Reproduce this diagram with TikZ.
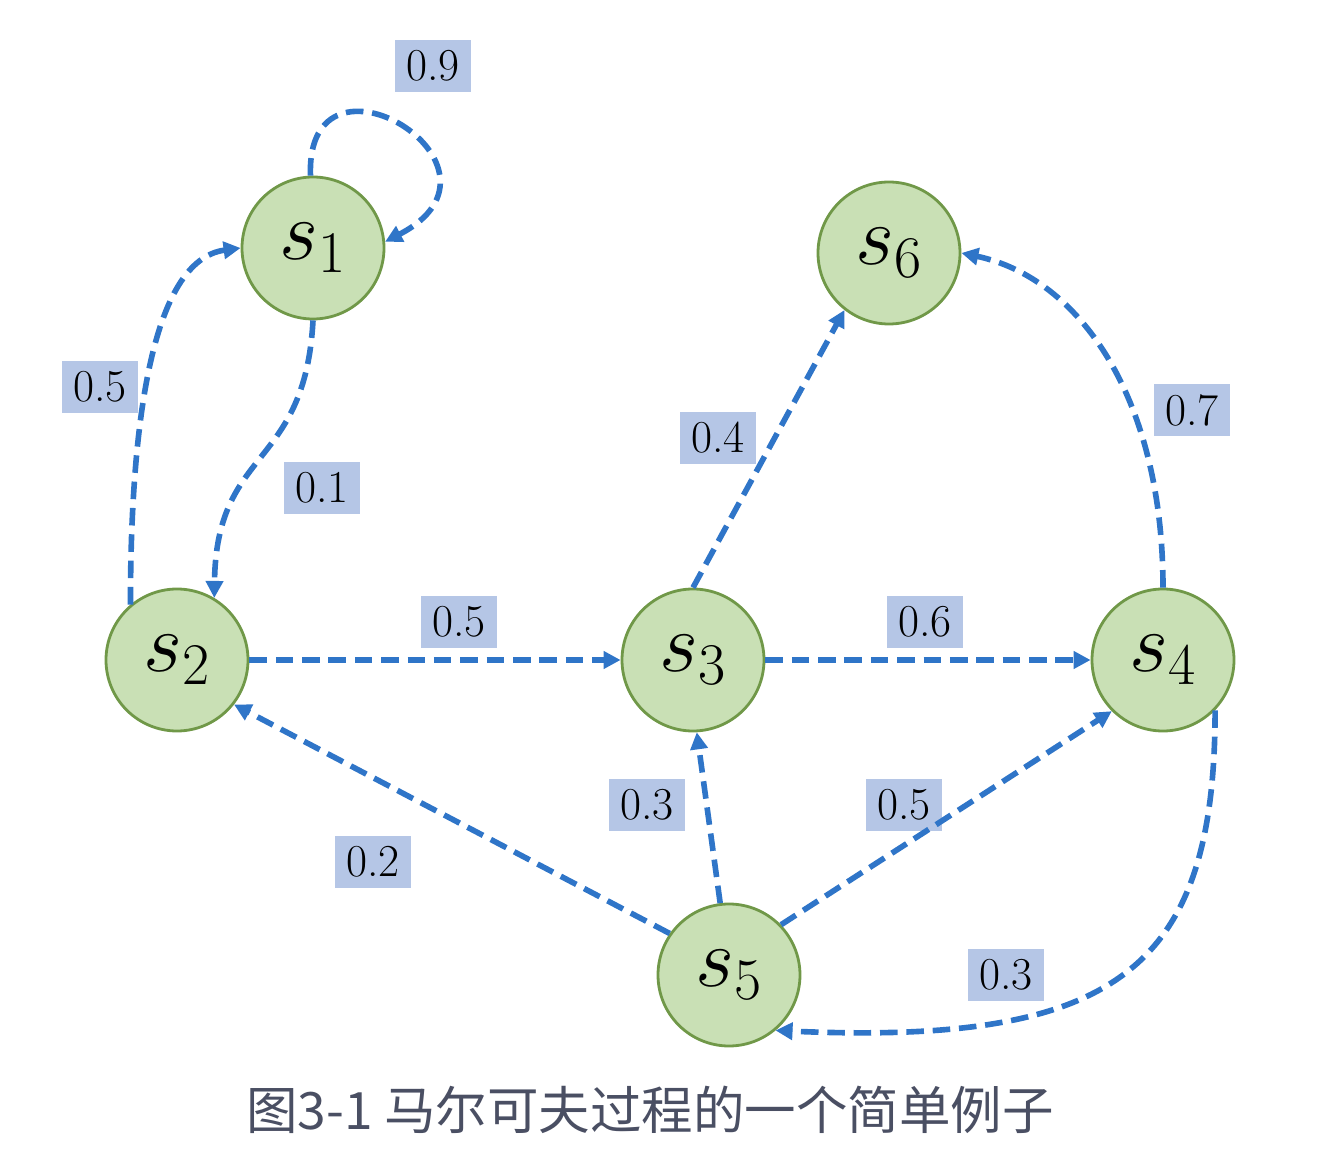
\documentclass[tikz,border=0pt]{standalone}
\usepackage{fix-cm}
\usepackage{fontspec}
\newfontfamily\cjkfont{Noto Sans CJK SC}
\usetikzlibrary{arrows.meta}
\definecolor{statefill}{RGB}{201,224,181}
\definecolor{stateedge}{RGB}{112,152,72}
\definecolor{edgeblue}{RGB}{47,117,200}
\definecolor{probfill}{RGB}{181,198,230}
\definecolor{captiongray}{RGB}{74,79,99}
\tikzset{
  statenode/.style={
    circle,
    draw=stateedge,
    fill=statefill,
    line width=1.6pt,
    minimum size=2.84cm,
    inner sep=0pt,
    font=\fontsize{48}{56}\selectfont
  },
  transition/.style={
    draw=edgeblue,
    line width=3.2pt,
    dash pattern=on 10pt off 5pt,
    -{Triangle[length=3.4mm,width=3.4mm]}
  },
  problabel/.style={
    fill=probfill,
    minimum width=1.52cm,
    minimum height=1.04cm,
    inner sep=0pt,
    font=\fontsize{26}{30}\selectfont
  }
}

\begin{document}
\begin{tikzpicture}[x=1cm,y=1cm]

  \useasboundingbox (0,0) rectangle (26.72,23.28);

  % States of the Markov chain.
  \node[statenode] (s1) at ( 6.26,18.32) {$s_1$};
  \node[statenode] (s2) at ( 3.54,10.08) {$s_2$};
  \node[statenode] (s3) at (13.86,10.08) {$s_3$};
  \node[statenode] (s4) at (23.26,10.08) {$s_4$};
  \node[statenode] (s5) at (14.58, 3.78) {$s_5$};
  \node[statenode] (s6) at (17.78,18.22) {$s_6$};

  % Transition probabilities.
  \node[problabel] (p11) at ( 8.66,21.96) {0.9};
  \node[problabel] (p21) at ( 2.00,15.54) {0.5};
  \node[problabel] (p12) at ( 6.44,13.52) {0.1};
  \node[problabel] (p23) at ( 9.18,10.84) {0.5};
  \node[problabel] (p36) at (14.36,14.52) {0.4};
  \node[problabel] (p34) at (18.50,10.84) {0.6};
  \node[problabel] (p46) at (23.84,15.08) {0.7};
  \node[problabel] (p53) at (12.94, 7.18) {0.3};
  \node[problabel] (p54) at (18.08, 7.18) {0.5};
  \node[problabel] (p52) at ( 7.46, 6.04) {0.2};
  \node[problabel] (p45) at (20.12, 3.78) {0.3};

  % Curved transitions.
  \draw[transition] (s1.92) .. controls +(-0.1,2.9) and +(2.9,1.5) .. (s1.5);
  \draw[transition] (s1.south) .. controls +(-0.16,-3.0) and +(0.04,3.04) .. (s2.59);
  \draw[transition] (s2.130) .. controls +(0,3.5) and +(-1.8,-0.24) .. (s1.west);
  \draw[transition] (s4.north) .. controls +(0,3.8) and +(2.36,-0.5) .. (s6.east);
  \draw[transition] (s4.-44) .. controls +(0,-5.2) and +(6.8,-0.3) .. (s5.-50);

  % Straight transitions.
  \draw[transition] (s2) -- (s3);
  \draw[transition] (s3) -- (s4);
  \draw[transition] (s3.north) -- (s6.232);
  \draw[transition] (s5.145) -- (s2.-38);
  \draw[transition] (s5.97) -- (s3.-87);
  \draw[transition] (s5.44) -- (s4.225);

  % Caption.
  \node[text=captiongray,font=\cjkfont\fontsize{29.3}{35}\selectfont] (caption)
    at (13.0,1.08) {图3-1 马尔可夫过程的一个简单例子};

\end{tikzpicture}
\end{document}
